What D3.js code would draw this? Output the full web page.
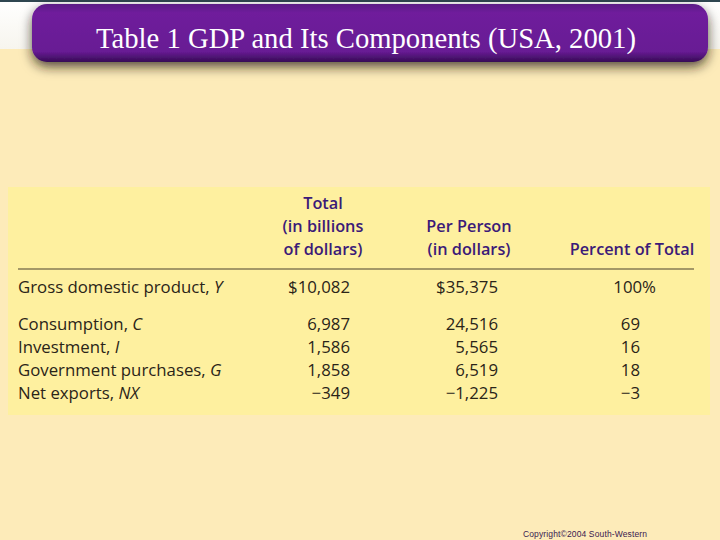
<!DOCTYPE html>
<html>
<head>
<meta charset="utf-8">
<script src="https://cdn.jsdelivr.net/npm/d3@7"></script>
<style>
  html, body { margin: 0; padding: 0; background: #fdebb9; }
  svg { display: block; }
  text { font-family: "Open Sans", "Noto Sans", sans-serif; }
</style>
</head>
<body>
<div id="chart"></div>
<script>
const titleText = "Table 1 GDP and Its Components (USA, 2001)";
const copyrightText = "Copyright©2004  South-Western";

const rowNames = ["Gross domestic product, ", "Consumption, ", "Investment, ", "Government purchases, ", "Net exports, "];
const rowSymbols = ["Y", "C", "I", "G", "NX"];

const columnKeys = ["total", "perPerson", "percent"];
const totalHeader = ["Total", "(in billions", "of dollars)"];
const perPersonHeader = ["Per Person", "(in dollars)"];
const percentHeader = ["Percent of Total"];

const totalValues = [10082, 6987, 1586, 1858, -349];
const perPersonValues = [35375, 24516, 5565, 6519, -1225];
const percentValues = [100, 69, 16, 18, -3];

const width = 720;
const height = 540;

const svg = d3.select("#chart")
  .append("svg")
  .attr("width", width)
  .attr("height", height);

const defs = svg.append("defs");

const topFade = defs.append("linearGradient")
  .attr("id", "topFade")
  .attr("x1", 0).attr("x2", 0).attr("y1", 0).attr("y2", 1);
topFade.append("stop").attr("offset", "0%").attr("stop-color", "#ffffff");
topFade.append("stop").attr("offset", "100%").attr("stop-color", "#f7f5ee");

const barFill = defs.append("linearGradient")
  .attr("id", "barFill")
  .attr("x1", 0).attr("x2", 0).attr("y1", 0).attr("y2", 1);
barFill.append("stop").attr("offset", "0%").attr("stop-color", "#5a1a85");
barFill.append("stop").attr("offset", "15%").attr("stop-color", "#6f1f9c");
barFill.append("stop").attr("offset", "82%").attr("stop-color", "#681b94");
barFill.append("stop").attr("offset", "100%").attr("stop-color", "#360c55");

defs.append("filter")
  .attr("id", "barShadow")
  .attr("x", "-5%").attr("y", "-30%").attr("width", "110%").attr("height", "170%")
  .append("feDropShadow")
  .attr("dx", 0).attr("dy", 5).attr("stdDeviation", 6)
  .attr("flood-color", "#201a10").attr("flood-opacity", 0.75);

// page background
svg.append("rect").attr("width", width).attr("height", height).attr("fill", "#fdebb9");
svg.append("rect").attr("width", width).attr("height", 49).attr("fill", "url(#topFade)");
svg.append("rect").attr("width", width).attr("height", 2).attr("fill", "#2f4650");

// title bar
svg.append("rect")
  .attr("x", 32).attr("y", 4)
  .attr("width", 676).attr("height", 58)
  .attr("rx", 15)
  .attr("fill", "url(#barFill)")
  .attr("filter", "url(#barShadow)");

svg.append("text")
  .attr("x", 96).attr("y", 48)
  .style("font-family", "'Liberation Serif', serif")
  .style("font-size", "29px")
  .attr("textLength", 540)
  .attr("lengthAdjust", "spacingAndGlyphs")
  .attr("fill", "#ffffff")
  .text(titleText);

// table panel
svg.append("rect")
  .attr("x", 8).attr("y", 187)
  .attr("width", 702).attr("height", 228)
  .attr("fill", "#fef09f");

// scales
const columnRight = d3.scaleOrdinal()
  .domain(columnKeys)
  .range([350, 498, 640]);

const headerCenter = d3.scaleOrdinal()
  .domain(columnKeys)
  .range([323, 469, 632]);

const headerY = d3.scaleLinear().domain([0, 1]).range([249.5, 226.5]);

const rowY = d3.scaleLinear().domain([1, 4]).range([324.5, 393.5]);
const rowPosition = i => i === 0 ? 287.5 : rowY(i);

const minus = "\u2212";
const grouped = d3.format(",");
const formatNumber = v => (v < 0 ? minus : "") + grouped(Math.abs(v));

// header, stacked up from the rule
const headerColor = "#3b1a78";
[[ "total", totalHeader ], [ "perPerson", perPersonHeader ], [ "percent", percentHeader ]]
  .forEach(([key, lines]) => {
    svg.append("g")
      .selectAll("text")
      .data(lines)
      .join("text")
      .attr("x", headerCenter(key))
      .attr("y", (d, i) => headerY(lines.length - 1 - i))
      .attr("dy", "0.35em")
      .attr("text-anchor", "middle")
      .style("font-size", "16.3px")
      .style("font-weight", 600)
      .attr("fill", headerColor)
      .text(d => d);
  });

// rule under header
svg.append("line")
  .attr("x1", 18).attr("x2", 694)
  .attr("y1", 269).attr("y2", 269)
  .attr("stroke", "#4a4030")
  .attr("stroke-width", 1.2);

// row labels
const textColor = "#2a2418";
const labels = svg.append("g")
  .selectAll("text")
  .data(rowNames)
  .join("text")
  .attr("x", 18)
  .attr("y", (d, i) => rowPosition(i))
  .attr("dy", "0.35em")
  .style("font-size", "16.8px")
  .attr("fill", textColor);
labels.append("tspan").text(d => d);
labels.append("tspan")
  .style("font-style", "italic")
  .text((d, i) => rowSymbols[i]);

// value columns
function drawColumn(key, values, format) {
  svg.append("g")
    .selectAll("text")
    .data(values)
    .join("text")
    .attr("x", (d, i) => columnRight(key) + (key === "percent" && i === 0 ? 16 : 0))
    .attr("y", (d, i) => rowPosition(i))
    .attr("dy", "0.35em")
    .attr("text-anchor", "end")
    .style("font-size", "16.8px")
    .attr("fill", textColor)
    .text(format);
}

drawColumn("total", totalValues, (d, i) => (i === 0 ? "$" : "") + formatNumber(d));
drawColumn("perPerson", perPersonValues, (d, i) => (i === 0 ? "$" : "") + formatNumber(d));
drawColumn("percent", percentValues, (d, i) => formatNumber(d) + (i === 0 ? "%" : ""));

// copyright line
svg.append("text")
  .attr("x", 523).attr("y", 537)
  .style("font-family", "'Liberation Sans', sans-serif")
  .style("font-size", "8.5px")
  .attr("textLength", 124)
  .attr("fill", "#3a1a50")
  .text(copyrightText);
</script>
</body>
</html>
